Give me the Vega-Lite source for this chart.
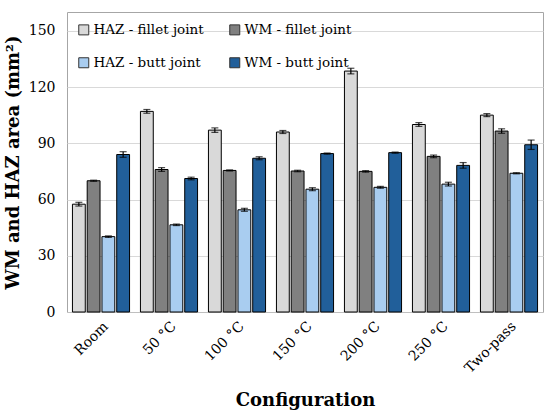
{
  "$schema": "https://vega.github.io/schema/vega-lite/v6.json",
  "width": 476,
  "height": 300,
  "autosize": "none",
  "padding": {"left": 67, "top": 12, "right": 7, "bottom": 102},
  "background": "white",
  "config": {
    "font": "DejaVu Serif",
    "view": {"stroke": "#a6a6a6", "strokeWidth": 1},
    "axis": {"labelColor": "#000", "titleColor": "#000", "labelFont": "DejaVu Serif", "titleFont": "DejaVu Serif"},
    "legend": {"labelFont": "DejaVu Serif"}
  },
  "data": {
    "values": [
      {"config": "Room", "series": "HAZ - fillet joint", "value": 57.5, "lo": 56.5, "hi": 58.5},
      {"config": "Room", "series": "WM - fillet joint", "value": 70, "lo": 69.7, "hi": 70.3},
      {"config": "Room", "series": "HAZ - butt joint", "value": 40.2, "lo": 39.8, "hi": 40.6},
      {"config": "Room", "series": "WM - butt joint", "value": 84, "lo": 82.5, "hi": 85.5},
      {"config": "50 °C", "series": "HAZ - fillet joint", "value": 107, "lo": 106, "hi": 108},
      {"config": "50 °C", "series": "WM - fillet joint", "value": 76, "lo": 75, "hi": 77},
      {"config": "50 °C", "series": "HAZ - butt joint", "value": 46.5, "lo": 46.1, "hi": 46.9},
      {"config": "50 °C", "series": "WM - butt joint", "value": 71.2, "lo": 70.5, "hi": 71.9},
      {"config": "100 °C", "series": "HAZ - fillet joint", "value": 97, "lo": 95.8, "hi": 98.2},
      {"config": "100 °C", "series": "WM - fillet joint", "value": 75.5, "lo": 75.2, "hi": 75.8},
      {"config": "100 °C", "series": "HAZ - butt joint", "value": 54.5, "lo": 53.7, "hi": 55.3},
      {"config": "100 °C", "series": "WM - butt joint", "value": 82, "lo": 81.2, "hi": 82.8},
      {"config": "150 °C", "series": "HAZ - fillet joint", "value": 96, "lo": 95.2, "hi": 96.8},
      {"config": "150 °C", "series": "WM - fillet joint", "value": 75.2, "lo": 74.8, "hi": 75.6},
      {"config": "150 °C", "series": "HAZ - butt joint", "value": 65.5, "lo": 64.7, "hi": 66.3},
      {"config": "150 °C", "series": "WM - butt joint", "value": 84.5, "lo": 84.2, "hi": 84.8},
      {"config": "200 °C", "series": "HAZ - fillet joint", "value": 128.5, "lo": 127, "hi": 130},
      {"config": "200 °C", "series": "WM - fillet joint", "value": 75, "lo": 74.6, "hi": 75.4},
      {"config": "200 °C", "series": "HAZ - butt joint", "value": 66.5, "lo": 66, "hi": 67},
      {"config": "200 °C", "series": "WM - butt joint", "value": 85, "lo": 84.7, "hi": 85.3},
      {"config": "250 °C", "series": "HAZ - fillet joint", "value": 100, "lo": 99, "hi": 101},
      {"config": "250 °C", "series": "WM - fillet joint", "value": 83, "lo": 82.3, "hi": 83.7},
      {"config": "250 °C", "series": "HAZ - butt joint", "value": 68.2, "lo": 67.2, "hi": 69.2},
      {"config": "250 °C", "series": "WM - butt joint", "value": 78.2, "lo": 76.7, "hi": 79.7},
      {"config": "Two-pass", "series": "HAZ - fillet joint", "value": 105, "lo": 104.2, "hi": 105.8},
      {"config": "Two-pass", "series": "WM - fillet joint", "value": 96.5, "lo": 95.3, "hi": 97.7},
      {"config": "Two-pass", "series": "HAZ - butt joint", "value": 74, "lo": 73.7, "hi": 74.3},
      {"config": "Two-pass", "series": "WM - butt joint", "value": 89.2, "lo": 86.7, "hi": 91.7}
    ]
  },
  "encoding": {
    "x": {
      "field": "config",
      "type": "nominal",
      "sort": null,
      "scale": {"paddingInner": 0.16, "paddingOuter": 0.08},
      "title": "Configuration",
      "axis": {
        "labelAngle": -45,
        "labelFontSize": 14,
        "ticks": false,
        "labelPadding": 7,
        "domainColor": "#bfbfbf",
        "titleFontSize": 18,
        "titleFontWeight": "bold",
        "titlePadding": 16
      }
    },
    "xOffset": {
      "field": "series",
      "type": "nominal",
      "sort": ["HAZ - fillet joint", "WM - fillet joint", "HAZ - butt joint", "WM - butt joint"],
      "scale": {"paddingInner": 0.13, "paddingOuter": 0}
    }
  },
  "layer": [
    {
      "mark": {"type": "bar", "stroke": "#000", "strokeWidth": 1},
      "encoding": {
        "y": {
          "field": "value",
          "type": "quantitative",
          "scale": {"domain": [0, 150]},
          "title": "WM and HAZ area (mm²)",
          "axis": {
            "values": [0, 30, 60, 90, 120, 150],
            "labelFontSize": 14,
            "ticks": false,
            "domain": false,
            "labelPadding": 12,
            "gridColor": "#d9d9d9",
            "titleFontSize": 18,
            "titleFontWeight": "bold",
            "titlePadding": 6
          }
        },
        "color": {
          "field": "series",
          "type": "nominal",
          "scale": {
            "domain": ["HAZ - fillet joint", "WM - fillet joint", "HAZ - butt joint", "WM - butt joint"],
            "range": ["#d9d9d9", "#808080", "#a9cdf0", "#215f9a"]
          },
          "legend": {
            "title": null,
            "orient": "none",
            "legendX": 10,
            "legendY": 11,
            "columns": 2,
            "direction": "horizontal",
            "symbolType": "square",
            "symbolSize": 100,
            "symbolStrokeColor": "#333",
            "symbolStrokeWidth": 1,
            "labelFontSize": 13.5,
            "labelColor": "#000",
            "labelOffset": 3,
            "rowPadding": 18,
            "columnPadding": 23
          }
        }
      }
    },
    {
      "mark": {"type": "rule", "color": "#000", "strokeWidth": 1.2},
      "encoding": {
        "y": {"field": "lo", "type": "quantitative"},
        "y2": {"field": "hi"}
      }
    },
    {
      "mark": {"type": "tick", "color": "#000", "size": 7, "thickness": 1.2},
      "encoding": {
        "y": {"field": "lo", "type": "quantitative"}
      }
    },
    {
      "mark": {"type": "tick", "color": "#000", "size": 7, "thickness": 1.2},
      "encoding": {
        "y": {"field": "hi", "type": "quantitative"}
      }
    }
  ]
}
